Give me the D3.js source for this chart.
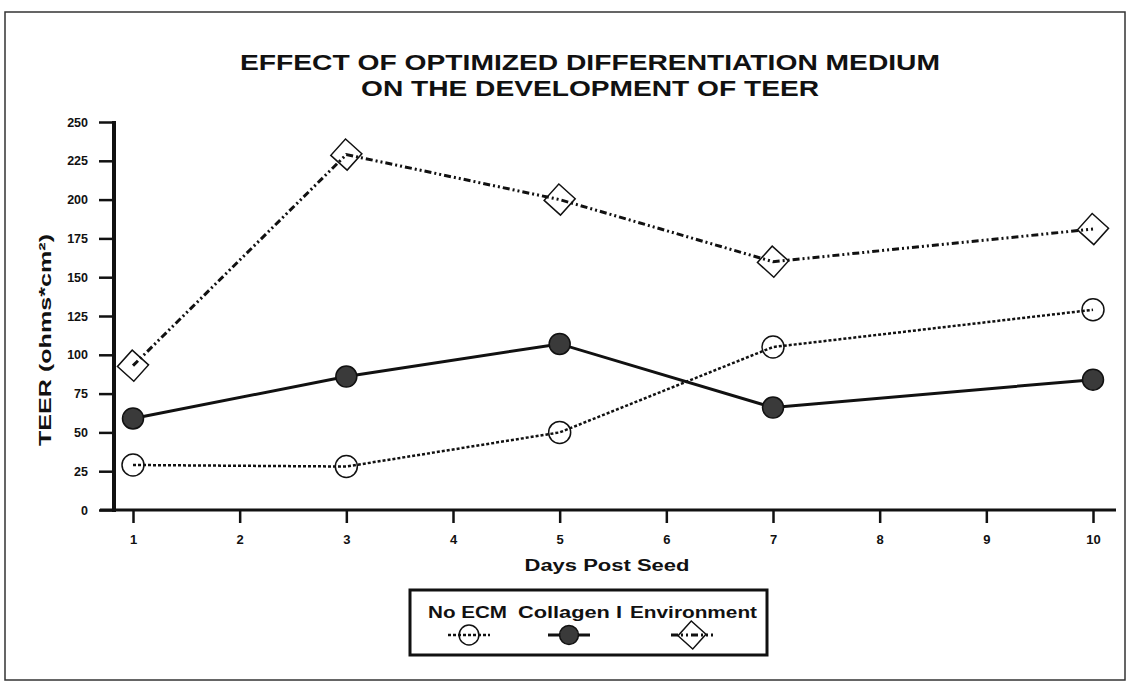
<!DOCTYPE html>
<html lang="en">
    <head>
        <meta charset="utf-8">
        <title>TEER chart</title>
        <script src="https://d3js.org/d3.v7.min.js"></script>
        <style type="text/css">
            body { margin: 0; background: #fff; }
            text { font-family: "Liberation Sans", Arial, sans-serif; font-weight: bold; fill: #111; }
        </style>
    </head>
    <body>
        <script>
            // data
            var days = [1, 3, 5, 7, 10];
            var noEcm = [29, 28, 50, 105, 129];
            var collagen = [59, 86, 107, 66, 84];
            var environment = [93, 229, 200, 160, 181];

            var xTicks = [1, 2, 3, 4, 5, 6, 7, 8, 9, 10];
            var yTicks = [0, 25, 50, 75, 100, 125, 150, 175, 200, 225, 250];
            var seriesNames = ["No ECM", "Collagen I", "Environment"];

            var width = 1129, height = 684;

            var svg = d3.select("body").append("svg")
                .attr("width", width)
                .attr("height", height);

            // outer frame
            svg.append("rect")
                .attr("x", 5).attr("y", 12)
                .attr("width", 1120).attr("height", 668)
                .attr("fill", "none")
                .attr("stroke", "#333")
                .attr("stroke-width", 1.5);

            // title
            svg.append("text").attr("x", 590).attr("y", 70)
                .attr("text-anchor", "middle")
                .attr("font-size", 22)
                .attr("textLength", 700).attr("lengthAdjust", "spacingAndGlyphs")
                .text("EFFECT OF OPTIMIZED DIFFERENTIATION MEDIUM");
            svg.append("text").attr("x", 590).attr("y", 96)
                .attr("text-anchor", "middle")
                .attr("font-size", 22)
                .attr("textLength", 458).attr("lengthAdjust", "spacingAndGlyphs")
                .text("ON THE DEVELOPMENT OF TEER");

            var xScale = d3.scaleLinear().domain([1, 10]).range([133, 1093]);
            var yScale = d3.scaleLinear().domain([0, 250]).range([510, 122]);

            // y axis
            var yAxis = svg.append("g")
                .attr("transform", "translate(114,0)")
                .call(d3.axisLeft(yScale).tickValues(yTicks).tickSize(15).tickPadding(11));
            yAxis.select(".domain").remove();
            yAxis.selectAll(".tick line").attr("stroke", "#111").attr("stroke-width", 2.5);
            yAxis.selectAll(".tick text").attr("font-size", 12.5).attr("fill", "#111")
                .attr("font-family", "Liberation Sans, Arial, sans-serif");
            svg.append("line")
                .attr("x1", 114).attr("x2", 114)
                .attr("y1", yScale(250) - 1).attr("y2", yScale(0) + 2)
                .attr("stroke", "#111").attr("stroke-width", 4);

            // x axis
            var xAxis = svg.append("g")
                .attr("transform", "translate(0," + yScale(0) + ")")
                .call(d3.axisBottom(xScale).tickValues(xTicks).tickSize(13).tickPadding(12));
            xAxis.select(".domain").remove();
            xAxis.selectAll(".tick line").attr("stroke", "#111").attr("stroke-width", 2.5);
            xAxis.selectAll(".tick text").attr("font-size", 13).attr("fill", "#111")
                .attr("font-family", "Liberation Sans, Arial, sans-serif");
            svg.append("line")
                .attr("x1", 100).attr("x2", 1116)
                .attr("y1", yScale(0)).attr("y2", yScale(0))
                .attr("stroke", "#111").attr("stroke-width", 3);

            // axis titles
            svg.append("text")
                .attr("transform", "translate(51,340) rotate(-90)")
                .attr("text-anchor", "middle")
                .attr("font-size", 17)
                .attr("textLength", 212).attr("lengthAdjust", "spacingAndGlyphs")
                .text("TEER (ohms*cm²)");
            svg.append("text")
                .attr("x", 607).attr("y", 571)
                .attr("text-anchor", "middle")
                .attr("font-size", 16)
                .attr("textLength", 165).attr("lengthAdjust", "spacingAndGlyphs")
                .text("Days Post Seed");

            var line = d3.line()
                .x(function (d) { return xScale(d[0]); })
                .y(function (d) { return yScale(d[1]); });

            function pairs(vals) {
                return days.map(function (d, i) { return [d, vals[i]]; });
            }

            var styles = [
                { dash: "3,2", width: 2.5 },
                { dash: null, width: 3 },
                { dash: "7,3,2,3,2,3", width: 3 }
            ];
            var allSeries = [noEcm, collagen, environment];

            allSeries.forEach(function (vals, i) {
                svg.append("path")
                    .datum(pairs(vals))
                    .attr("d", line)
                    .attr("fill", "none")
                    .attr("stroke", "#111")
                    .attr("stroke-width", styles[i].width)
                    .attr("stroke-dasharray", styles[i].dash);
            });

            function drawMarker(g, kind, cx, cy, s) {
                s = s || 1;
                if (kind === 0) {
                    g.append("circle").attr("cx", cx).attr("cy", cy).attr("r", 11 * s)
                        .attr("fill", "none").attr("stroke", "#111").attr("stroke-width", 1.5);
                } else if (kind === 1) {
                    g.append("circle").attr("cx", cx).attr("cy", cy).attr("r", 10.5 * s)
                        .attr("fill", "#3a3a3a").attr("stroke", "#111").attr("stroke-width", 1.5);
                } else {
                    var h = 11 * s;
                    g.append("rect").attr("x", cx - h).attr("y", cy - h)
                        .attr("width", 2 * h).attr("height", 2 * h)
                        .attr("transform", "rotate(42," + cx + "," + cy + ")")
                        .attr("fill", "none").attr("stroke", "#111").attr("stroke-width", 1.5);
                }
            }

            allSeries.forEach(function (vals, i) {
                var g = svg.append("g");
                pairs(vals).forEach(function (p) {
                    drawMarker(g, i, xScale(p[0]), yScale(p[1]));
                });
            });

            // legend
            var legend = svg.append("g");
            legend.append("rect")
                .attr("x", 410).attr("y", 590)
                .attr("width", 357).attr("height", 65)
                .attr("fill", "none").attr("stroke", "#111").attr("stroke-width", 3);

            var legendMarkX = [469, 569, 692];
            var legendTextX = [428, 518, 630];
            var legendTextW = [79, 104, 127];
            seriesNames.forEach(function (name, i) {
                legend.append("text")
                    .attr("x", legendTextX[i]).attr("y", 618)
                    .attr("font-size", 16)
                    .attr("textLength", legendTextW[i]).attr("lengthAdjust", "spacingAndGlyphs")
                    .text(name);
                legend.append("line")
                    .attr("x1", legendMarkX[i] - 21).attr("x2", legendMarkX[i] + 21)
                    .attr("y1", 635).attr("y2", 635)
                    .attr("stroke", "#111")
                    .attr("stroke-width", styles[i].width)
                    .attr("stroke-dasharray", styles[i].dash);
                drawMarker(legend, i, legendMarkX[i], 635, 0.9);
            });
        </script>
    </body>
</html>
